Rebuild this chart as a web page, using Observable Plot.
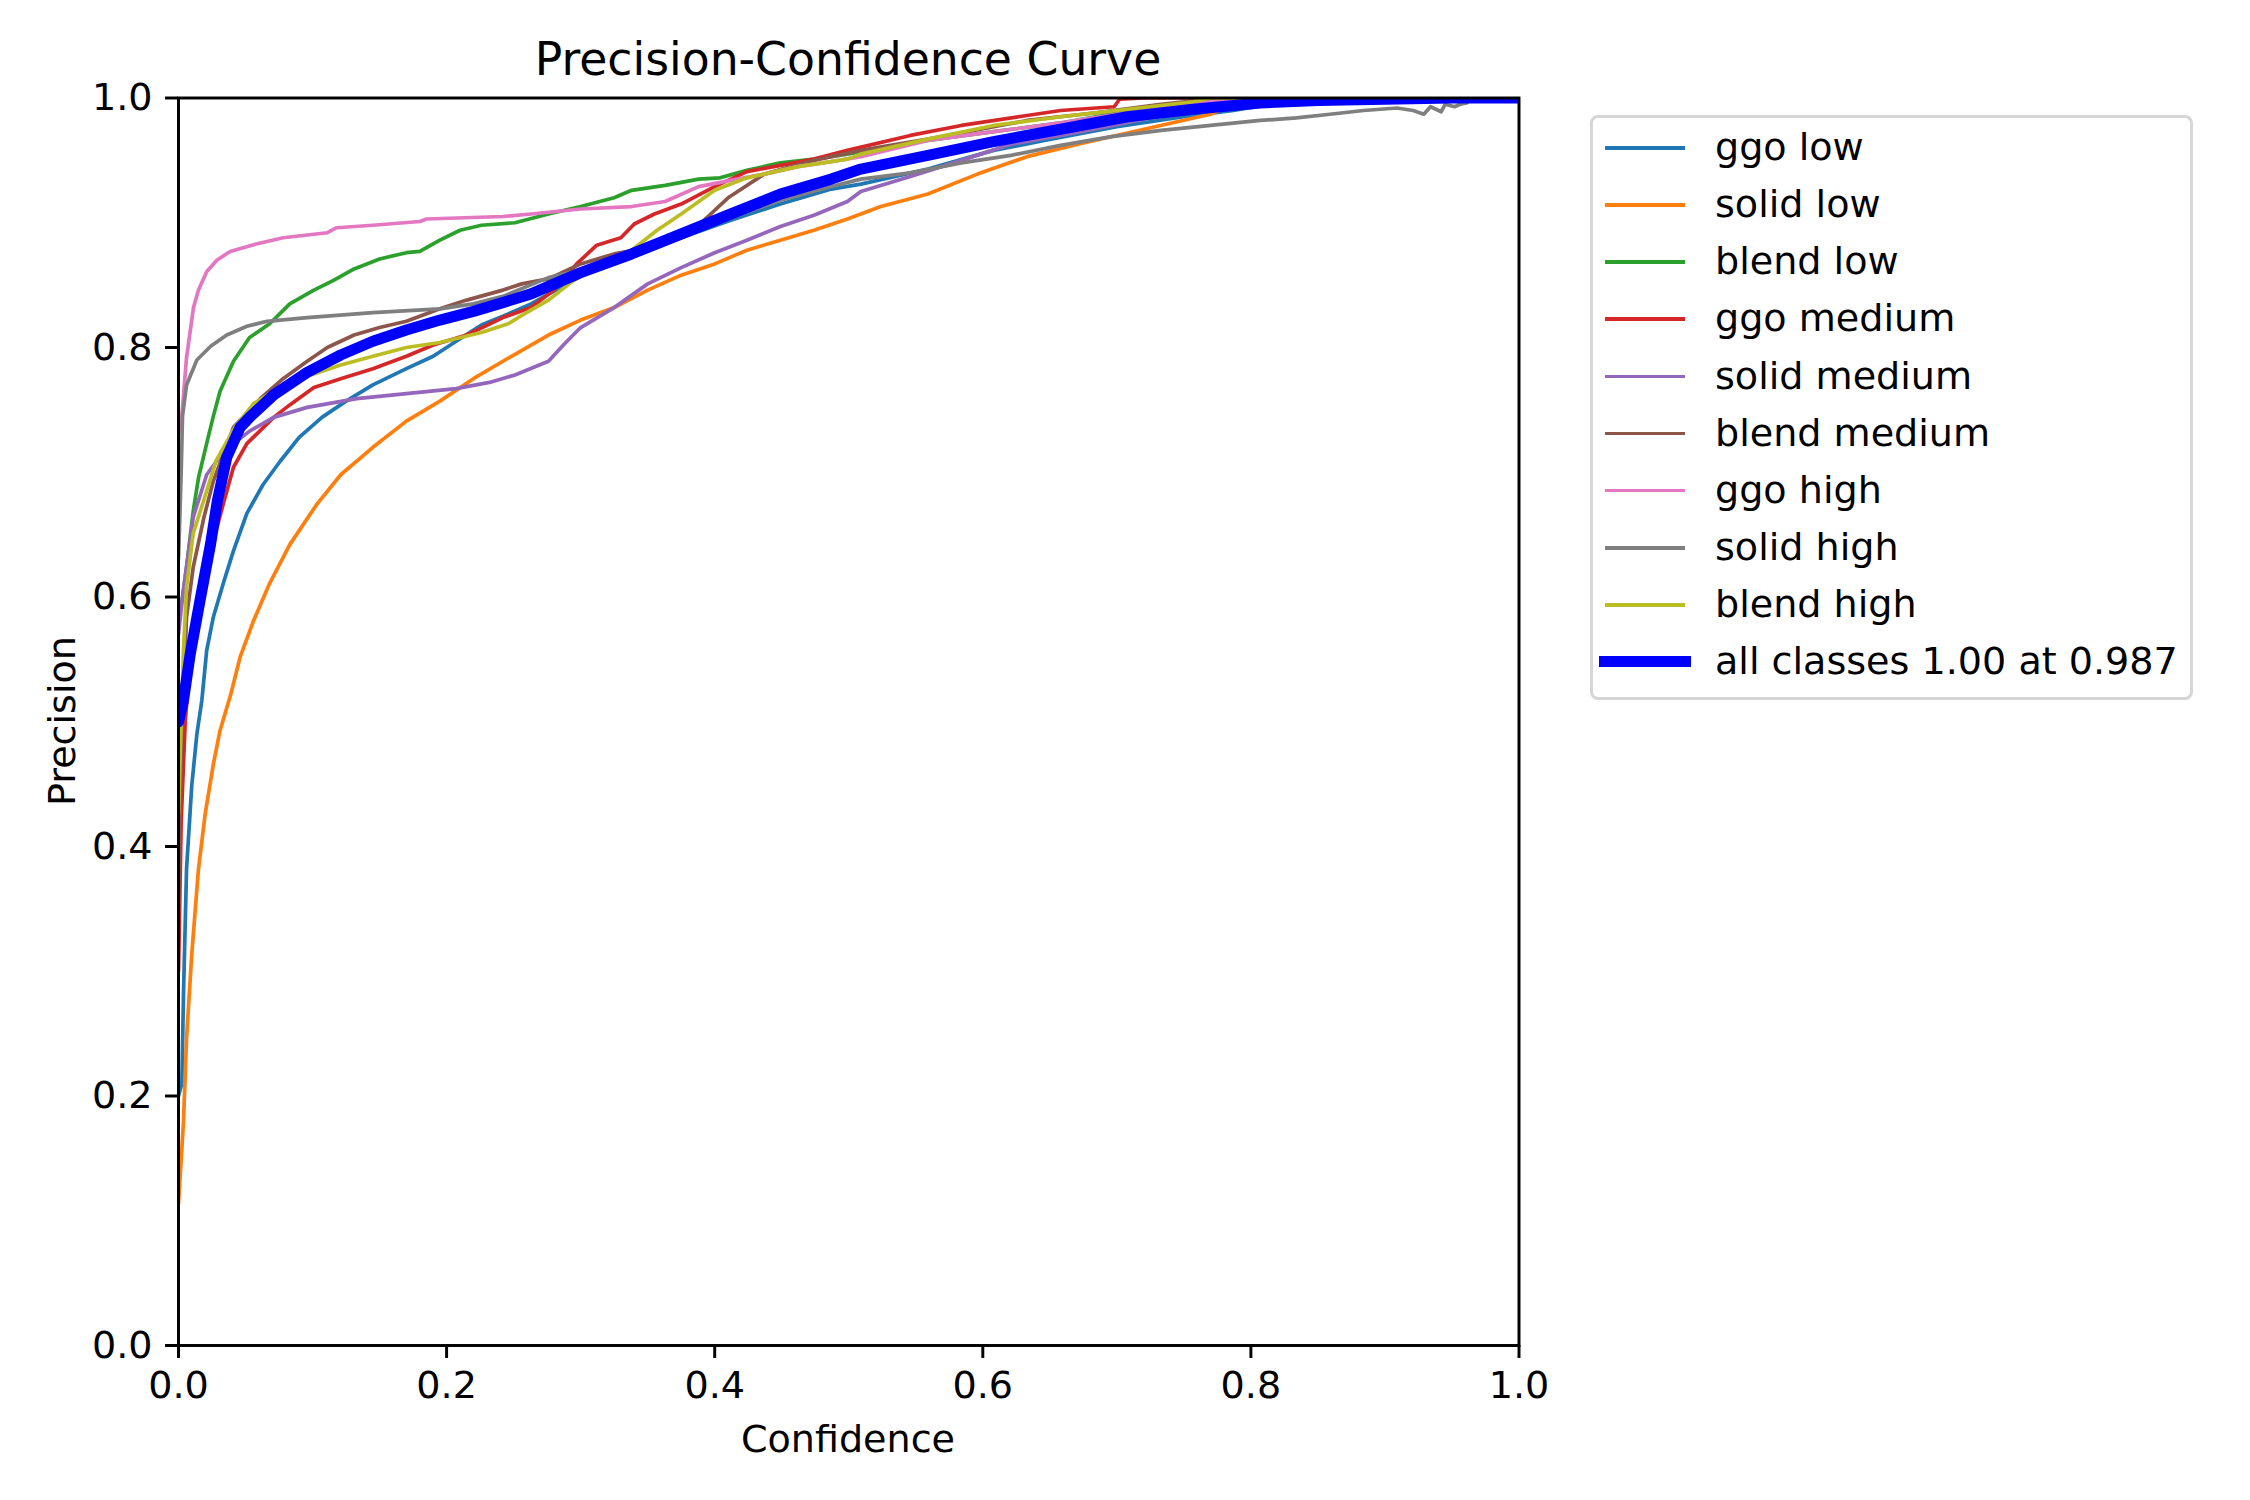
<!DOCTYPE html>
<html><head><meta charset="utf-8">
<script src="https://cdn.jsdelivr.net/npm/d3@7"></script>
<script src="https://cdn.jsdelivr.net/npm/@observablehq/plot@0.6"></script>
<style>
html,body{margin:0;padding:0;background:#fff;}
#fig{position:relative;width:2250px;height:1500px;font-family:"DejaVu Sans",sans-serif;color:#000;overflow:hidden;background:#fff;}
#fig > svg{position:absolute;left:0;top:0;}
.lbl{position:absolute;white-space:nowrap;line-height:1.164;}
</style></head><body><div id="fig"></div>
<script>
const chartTitle = "Precision-Confidence Curve";
const xLabel = "Confidence";
const yLabel = "Precision";
const xTicks = [0, 0.2, 0.4, 0.6, 0.8, 1.0];
const yTicks = [0, 0.2, 0.4, 0.6, 0.8, 1.0];
const seriesNames = ["ggo low","solid low","blend low","ggo medium","solid medium","blend medium","ggo high","solid high","blend high"];
const seriesColors = ["#1f77b4","#ff7f0e","#2ca02c","#d62728","#9467bd","#8c564b","#e377c2","#7f7f7f","#bcbd22"];
const allLabel = "all classes 1.00 at 0.987";
const allColor = "#0000ff";

// [confidence, precision]
const ggoLow = [[0,0.20],[0.0025,0.21],[0.0037,0.28],[0.006,0.382],[0.0099,0.449],[0.0137,0.49],[0.0174,0.517],[0.021,0.557],[0.026,0.584],[0.034,0.613],[0.041,0.637],[0.051,0.667],[0.063,0.69],[0.076,0.709],[0.09,0.728],[0.107,0.744],[0.125,0.757],[0.145,0.77],[0.17,0.783],[0.19,0.793],[0.21,0.807],[0.226,0.818],[0.242,0.825],[0.263,0.835],[0.3,0.857],[0.338,0.874],[0.375,0.888],[0.412,0.902],[0.449,0.915],[0.487,0.927],[0.509,0.931],[0.559,0.943],[0.608,0.958],[0.646,0.966],[0.7,0.977],[0.75,0.985],[0.787,0.99],[0.82,0.996],[0.85,1.0],[1,1]];
const solidLow = [[0,0.114],[0.0037,0.179],[0.006,0.246],[0.0099,0.314],[0.0149,0.382],[0.0199,0.426],[0.026,0.466],[0.031,0.493],[0.039,0.522],[0.046,0.552],[0.056,0.581],[0.068,0.611],[0.083,0.642],[0.103,0.674],[0.121,0.698],[0.145,0.72],[0.17,0.741],[0.195,0.757],[0.22,0.775],[0.242,0.789],[0.276,0.81],[0.3,0.822],[0.325,0.832],[0.35,0.846],[0.375,0.858],[0.4,0.867],[0.424,0.878],[0.449,0.886],[0.474,0.894],[0.499,0.903],[0.524,0.913],[0.559,0.923],[0.596,0.939],[0.633,0.953],[0.671,0.963],[0.708,0.972],[0.745,0.981],[0.77,0.987],[0.782,0.993],[0.795,0.998],[0.81,1],[1,1]];
const blendLow = [[0,0.58],[0.003,0.6],[0.006,0.624],[0.011,0.669],[0.015,0.696],[0.021,0.723],[0.026,0.745],[0.031,0.765],[0.041,0.789],[0.053,0.808],[0.068,0.819],[0.083,0.835],[0.101,0.846],[0.116,0.854],[0.131,0.863],[0.15,0.871],[0.17,0.876],[0.18,0.877],[0.195,0.886],[0.21,0.894],[0.226,0.898],[0.251,0.9],[0.276,0.907],[0.3,0.913],[0.325,0.92],[0.338,0.926],[0.363,0.93],[0.388,0.935],[0.404,0.936],[0.424,0.942],[0.449,0.948],[0.474,0.951],[0.499,0.955],[0.524,0.96],[0.559,0.966],[0.608,0.973],[0.658,0.98],[0.7,0.988],[0.75,0.995],[0.78,1],[1,1]];
const ggoMedium = [[0,0.30],[0.002,0.42],[0.005,0.5],[0.008,0.54],[0.011,0.57],[0.019,0.61],[0.026,0.645],[0.034,0.677],[0.041,0.704],[0.051,0.723],[0.071,0.744],[0.083,0.754],[0.101,0.768],[0.121,0.775],[0.145,0.783],[0.17,0.793],[0.19,0.802],[0.215,0.81],[0.242,0.824],[0.263,0.832],[0.28,0.846],[0.297,0.867],[0.312,0.882],[0.33,0.888],[0.34,0.899],[0.355,0.907],[0.375,0.915],[0.4,0.929],[0.424,0.941],[0.449,0.946],[0.474,0.951],[0.499,0.958],[0.546,0.97],[0.584,0.978],[0.633,0.986],[0.658,0.99],[0.698,0.993],[0.702,0.999],[0.72,1],[1,1]];
const solidMedium = [[0,0.57],[0.003,0.6],[0.006,0.624],[0.011,0.664],[0.021,0.698],[0.034,0.717],[0.053,0.733],[0.071,0.744],[0.096,0.752],[0.133,0.759],[0.17,0.763],[0.207,0.767],[0.232,0.772],[0.251,0.778],[0.276,0.789],[0.288,0.803],[0.3,0.816],[0.325,0.832],[0.35,0.851],[0.375,0.864],[0.4,0.876],[0.424,0.886],[0.449,0.897],[0.474,0.906],[0.499,0.917],[0.509,0.925],[0.546,0.937],[0.584,0.95],[0.621,0.963],[0.658,0.97],[0.683,0.975],[0.72,0.983],[0.76,0.99],[0.8,0.996],[0.84,1],[1,1]];
const blendMedium = [[0,0.35],[0.002,0.48],[0.006,0.584],[0.011,0.624],[0.019,0.664],[0.026,0.693],[0.041,0.736],[0.049,0.745],[0.061,0.759],[0.078,0.775],[0.096,0.789],[0.111,0.8],[0.131,0.81],[0.15,0.816],[0.17,0.821],[0.195,0.831],[0.215,0.838],[0.242,0.846],[0.256,0.851],[0.276,0.855],[0.3,0.867],[0.325,0.875],[0.35,0.88],[0.375,0.891],[0.39,0.9],[0.41,0.92],[0.437,0.939],[0.474,0.95],[0.509,0.958],[0.559,0.967],[0.633,0.982],[0.683,0.988],[0.733,0.995],[0.777,1],[1,1]];
const ggoHigh = [[0,0.73],[0.0025,0.745],[0.006,0.792],[0.0112,0.832],[0.0149,0.846],[0.0211,0.861],[0.0286,0.87],[0.0385,0.877],[0.058,0.883],[0.078,0.888],[0.111,0.892],[0.118,0.896],[0.145,0.898],[0.18,0.901],[0.185,0.903],[0.242,0.905],[0.263,0.907],[0.3,0.911],[0.338,0.913],[0.363,0.917],[0.388,0.929],[0.412,0.934],[0.437,0.939],[0.462,0.945],[0.487,0.949],[0.509,0.953],[0.559,0.966],[0.608,0.973],[0.658,0.98],[0.7,0.987],[0.75,0.994],[0.79,1],[1,1]];
const solidHigh = [[0,0.63],[0.002,0.7],[0.003,0.745],[0.006,0.77],[0.0137,0.79],[0.024,0.801],[0.036,0.81],[0.051,0.817],[0.066,0.821],[0.096,0.824],[0.145,0.828],[0.195,0.831],[0.22,0.835],[0.242,0.841],[0.276,0.856],[0.3,0.862],[0.338,0.878],[0.375,0.89],[0.412,0.904],[0.449,0.918],[0.487,0.929],[0.509,0.935],[0.546,0.94],[0.584,0.948],[0.621,0.954],[0.658,0.962],[0.696,0.969],[0.733,0.974],[0.77,0.978],[0.807,0.982],[0.834,0.984],[0.859,0.987],[0.884,0.99],[0.909,0.992],[0.921,0.99],[0.929,0.987],[0.934,0.993],[0.942,0.989],[0.945,0.995],[0.952,0.993],[0.956,0.995],[0.961,0.996],[0.965,1],[1,1]];
const blendHigh = [[0,0.426],[0.002,0.5],[0.0037,0.557],[0.006,0.608],[0.011,0.651],[0.021,0.685],[0.028,0.709],[0.042,0.736],[0.056,0.755],[0.071,0.765],[0.096,0.777],[0.121,0.786],[0.145,0.793],[0.17,0.8],[0.195,0.804],[0.226,0.812],[0.246,0.819],[0.258,0.827],[0.276,0.838],[0.295,0.854],[0.312,0.866],[0.338,0.878],[0.357,0.894],[0.375,0.907],[0.4,0.926],[0.424,0.936],[0.462,0.945],[0.499,0.951],[0.509,0.955],[0.559,0.967],[0.608,0.978],[0.658,0.985],[0.708,0.991],[0.757,0.997],[0.77,1],[1,1]];
const allClasses = [[0,0.5],[0.0037,0.517],[0.0087,0.554],[0.016,0.597],[0.024,0.643],[0.029,0.677],[0.036,0.712],[0.046,0.736],[0.053,0.744],[0.066,0.757],[0.071,0.762],[0.096,0.78],[0.121,0.794],[0.145,0.805],[0.17,0.814],[0.195,0.822],[0.22,0.829],[0.242,0.836],[0.263,0.843],[0.3,0.86],[0.338,0.875],[0.375,0.891],[0.412,0.907],[0.449,0.923],[0.487,0.935],[0.509,0.943],[0.559,0.954],[0.608,0.965],[0.658,0.975],[0.708,0.985],[0.757,0.991],[0.807,0.996],[0.85,0.998],[0.9,0.999],[0.95,1],[1,1]];

const seriesData = [ggoLow, solidLow, blendLow, ggoMedium, solidMedium, blendMedium, ggoHigh, solidHigh, blendHigh];

const rows = [];
seriesData.forEach((pts, i) => pts.forEach(([c, p]) => rows.push({series: seriesNames[i], conf: c, prec: p})));
const allRows = allClasses.map(([c, p]) => ({conf: c, prec: p}));

const PT = 3.7;   // px per point for line widths
const FS = 38.1;  // 10pt text
const TFS = 45.7; // 12pt title

const chart = Plot.plot({
  width: 2250, height: 1500,
  marginLeft: 178, marginRight: 731.5, marginTop: 97.5, marginBottom: 155,
  style: {fontFamily: '"DejaVu Sans", sans-serif', fontSize: FS + "px", color: "black", background: "white", overflow: "visible"},
  x: {domain: [0, 1]},
  y: {domain: [0, 1]},
  color: {domain: seriesNames, range: seriesColors},
  marks: [
    Plot.line(rows, {x: "conf", y: "prec", z: "series", stroke: "series", strokeWidth: PT, strokeLinejoin: "round", clip: true}),
    Plot.line(allRows, {x: "conf", y: "prec", stroke: allColor, strokeWidth: 3 * PT, strokeLinejoin: "round", clip: true}),
    Plot.frame({stroke: "black", strokeWidth: 0.8 * PT}),
    Plot.axisX({ticks: xTicks, tickFormat: d3.format(".1f"), tickSize: 3.5 * PT, tickPadding: 3.5 * PT, strokeWidth: 0.8 * PT, label: null, fontSize: FS}),
    Plot.axisY({ticks: yTicks, tickFormat: d3.format(".1f"), tickSize: 3.5 * PT, tickPadding: 3.5 * PT, strokeWidth: 0.8 * PT, label: null, fontSize: FS})
  ]
});
const fig = document.getElementById("fig");
fig.appendChild(chart);

function addLabel(text, css) {
  const d = document.createElement("div");
  d.className = "lbl";
  d.textContent = text;
  Object.assign(d.style, css);
  fig.appendChild(d);
  return d;
}
// title: baseline ~75.5
addLabel(chartTitle, {left: "848px", top: (75.5 - 0.928 * TFS) + "px", fontSize: TFS + "px", transform: "translateX(-50%)"});
// x label: baseline ~1452
addLabel(xLabel, {left: "848px", top: (1452 - 0.928 * FS) + "px", fontSize: FS + "px", transform: "translateX(-50%)"});
// y label rotated, baseline x ~75
addLabel(yLabel, {left: (75 - 0.346 * FS) + "px", top: "721px", fontSize: FS + "px", transform: "translate(-50%,-50%) rotate(-90deg)"});

// legend
const legendItems = seriesNames.map((n, i) => ({label: n, color: seriesColors[i], w: PT}))
  .concat([{label: allLabel, color: allColor, w: 3 * PT}]);
const box = document.createElement("div");
Object.assign(box.style, {position: "absolute", left: "1590px", top: "115px", width: "603px", height: "585px",
  border: PT + "px solid #d6d6d6", borderRadius: "8px", boxSizing: "border-box", background: "rgba(255,255,255,0.8)"});
fig.appendChild(box);
legendItems.forEach((it, i) => {
  const cy = 148 + i * 57.1;
  const h = document.createElement("div");
  const ext = it.w > PT ? it.w / 2 : 0;
  Object.assign(h.style, {position: "absolute", left: (1605 - ext) + "px", width: (80 + 2 * ext) + "px",
    top: (cy - it.w / 2) + "px", height: it.w + "px", background: it.color});
  fig.appendChild(h);
  addLabel(it.label, {left: "1715px", top: (cy + 12.5 - 0.928 * FS) + "px", fontSize: FS + "px"});
});
</script></body></html>
